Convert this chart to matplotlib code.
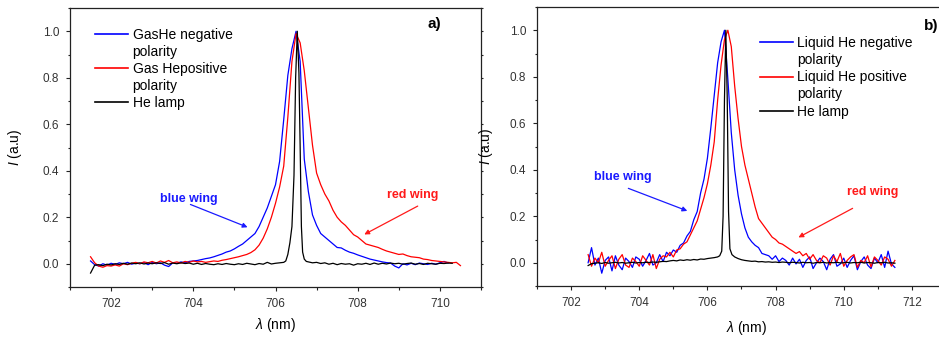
import numpy as np
import matplotlib
matplotlib.use("Agg")
import matplotlib.pyplot as plt
from matplotlib.lines import Line2D
from matplotlib.ticker import MultipleLocator

plt.rcParams['font.family'] = ['Liberation Sans', 'DejaVu Sans']
plt.rcParams['mathtext.fontset'] = 'custom'
plt.rcParams['mathtext.it'] = 'Liberation Sans:italic'
plt.rcParams['mathtext.rm'] = 'Liberation Sans'

# ---- panel a) gas He, sampled every 0.1 nm from 701.5 nm ----
gas_neg = [0.012, -0.004, -0.01, 0.0, -0.006,
           0.002, -0.003, 0.004, 0.0, 0.006, -0.002, 0.003, 0.0, 0.005, -0.004,
           0.006, 0.0, 0.004, -0.006, -0.012, 0.004, 0.002, 0.008, 0.004, 0.01,
           0.012, 0.014, 0.018, 0.022, 0.025, 0.03, 0.036, 0.042, 0.05, 0.055,
           0.064, 0.075, 0.085, 0.1, 0.115, 0.13, 0.16, 0.2, 0.24, 0.29,
           0.34, 0.44, 0.62, 0.81, 0.925, 1.0, 0.87, 0.45, 0.31, 0.21,
           0.165, 0.13, 0.115, 0.1, 0.085, 0.07, 0.068, 0.058, 0.05, 0.045,
           0.038, 0.032, 0.026, 0.02, 0.016, 0.012, 0.008, 0.005, 0.003, -0.01,
           -0.018, 0.0, -0.005, 0.002, -0.004, 0.003, 0.0, -0.003, 0.002, -0.002,
           0.004, 0.01, 0.003]
gas_pos = [0.03, 0.004, -0.01, -0.015, -0.008,
           -0.01, -0.005, -0.01, 0.0, -0.004, 0.002, 0.006, 0.0, 0.008, 0.004,
           0.01, 0.003, 0.012, 0.006, 0.014, 0.004, 0.008, 0.003, 0.01, 0.006,
           0.012, 0.008, 0.01, 0.006, 0.009, 0.012, 0.01, 0.015, 0.018, 0.022,
           0.026, 0.03, 0.035, 0.04, 0.048, 0.06, 0.08, 0.11, 0.15, 0.2,
           0.26, 0.33, 0.42, 0.63, 0.87, 0.99, 0.95, 0.83, 0.67, 0.51,
           0.39, 0.34, 0.3, 0.27, 0.23, 0.2, 0.18, 0.165, 0.145, 0.125,
           0.115, 0.1, 0.085, 0.08, 0.075, 0.07, 0.062, 0.055, 0.05, 0.045,
           0.04, 0.042, 0.035, 0.03, 0.028, 0.026, 0.02, 0.018, 0.014, 0.012,
           0.01, 0.008, 0.006, 0.004, 0.006, -0.008]
# He lamp: baseline before the line (from 701.5), the line itself, baseline after (from 706.8)
lamp_a_left = [-0.04, -0.006, -0.004, -0.008, -0.002,
               -0.005, 0.0, -0.003, 0.002, -0.002, 0.003, 0.0, 0.004, -0.001, 0.003,
               0.0, 0.004, 0.001, 0.005, -0.002, 0.003, 0.0, 0.004, 0.001, 0.003,
               -0.002, 0.002, -0.003, 0.001, -0.002, -0.004, 0.0, -0.003, 0.001, -0.002,
               -0.004, 0.0, -0.003, 0.002, -0.001, -0.004, 0.001, -0.002, 0.006, -0.001,
               0.002, 0.004, 0.006]
lamp_a_peak_wl = [706.25, 706.3, 706.35, 706.4, 706.45, 706.49, 706.53, 706.57, 706.6, 706.63, 706.66, 706.7, 706.75]
lamp_a_peak = [0.012, 0.04, 0.09, 0.16, 0.38, 0.8, 1.0, 0.82, 0.5, 0.16, 0.05, 0.02, 0.01]
lamp_a_right = [0.008, 0.004,
                0.006, 0.001, 0.004, -0.002, 0.002, -0.004, 0.001, -0.002, 0.0, -0.006,
                0.0, -0.002, 0.002, -0.003, 0.003, -0.002, 0.002, -0.001, 0.003, 0.0,
                0.002, -0.002, 0.001, 0.003, -0.002, 0.001, -0.003, 0.002, 0.0, -0.002,
                0.002, 0.001, 0.003, 0.002]

# ---- panel b) liquid He, sampled every 0.1 nm from 702.5 nm ----
liq_neg = [0.0, 0.065, -0.01, 0.02, -0.045,
           0.01, 0.025, -0.035, 0.03, -0.01, -0.03, 0.02, 0.005, -0.02, 0.025,
           0.015, -0.015, 0.01, 0.04, -0.01, 0.0, 0.035, 0.005, 0.045, 0.03,
           0.055, 0.045, 0.075, 0.085, 0.115, 0.135, 0.185, 0.22, 0.3, 0.36,
           0.45, 0.58, 0.72, 0.86, 0.95, 1.0, 0.79, 0.56, 0.4, 0.29,
           0.21, 0.15, 0.11, 0.09, 0.075, 0.065, 0.04, 0.035, 0.03, 0.015,
           0.03, 0.005, 0.02, 0.01, -0.01, 0.02, -0.005, 0.015, -0.02, 0.01,
           0.025, -0.025, 0.0, 0.02, 0.005, -0.03, 0.015, 0.035, -0.015, -0.005,
           0.02, -0.02, 0.01, 0.03, -0.03, 0.005, 0.025, -0.01, -0.025, 0.02,
           0.0, 0.035, -0.02, 0.05, -0.005, -0.02]
liq_pos = [0.035, -0.015, 0.02, 0.0, 0.045,
           -0.015, 0.01, 0.03, -0.025, 0.015, 0.035, -0.01, -0.02, 0.02, 0.005,
           -0.015, 0.03, 0.01, -0.01, 0.035, -0.025, 0.015, 0.03, 0.025, 0.045,
           0.025, 0.055, 0.06, 0.08, 0.09, 0.12, 0.15, 0.18, 0.23, 0.28,
           0.34, 0.42, 0.52, 0.7, 0.85, 0.96, 1.0, 0.93, 0.76, 0.62,
           0.5, 0.42, 0.36, 0.3, 0.24, 0.19, 0.17, 0.15, 0.13, 0.11,
           0.1, 0.085, 0.08, 0.07, 0.06, 0.05, 0.04, 0.048, 0.03, 0.04,
           0.015, 0.035, 0.01, 0.0, 0.03, 0.02, -0.01, 0.03, 0.005, 0.04,
           -0.015, 0.01, 0.025, 0.035, -0.02, 0.01, 0.0, 0.03, -0.018, 0.025,
           0.01, -0.01, 0.025, 0.015, -0.015, 0.01]
lamp_b_left = [-0.012, -0.004, -0.002, 0.0, -0.003,
               0.001, -0.002, 0.0, 0.002, -0.001, 0.001, -0.002, 0.0, 0.002, -0.001,
               0.001, 0.0, 0.002, 0.001, 0.003, 0.002, 0.004, 0.006, 0.005, 0.008,
               0.01, 0.008, 0.012, 0.01, 0.013, 0.011, 0.014, 0.012, 0.016, 0.015,
               0.018, 0.02, 0.022, 0.025]
lamp_b_peak_wl = [706.36, 706.42, 706.46, 706.5, 706.54, 706.58, 706.62, 706.66, 706.72]
lamp_b_peak = [0.03, 0.05, 0.2, 0.7, 1.0, 0.72, 0.22, 0.06, 0.035]
lamp_b_right = [0.025, 0.018,
                0.013, 0.01, 0.008, 0.006, 0.007, 0.004, 0.005, 0.003, 0.004, 0.002,
                0.003, 0.001, 0.003, 0.002, 0.0, 0.002, 0.001, -0.001, 0.002, 0.0,
                0.001, -0.002, 0.001, 0.0, 0.002, -0.001, 0.001, 0.0, 0.002, -0.001,
                0.0, 0.002, -0.001, 0.001, 0.0, 0.002, -0.001, 0.001, 0.0, -0.002,
                0.001, 0.0, 0.002, -0.001, 0.0, -0.002]


def grid(start, vals):
    # spectrometer sampling, 0.1 nm step
    return np.round(start + 0.1 * np.arange(len(vals)), 2)


def lamp(start_l, left, pk_wl, pk, start_r, right):
    wl = np.concatenate([grid(start_l, left), pk_wl, grid(start_r, right)])
    return wl, np.concatenate([left, pk, right])


fig = plt.figure(figsize=(9.39, 3.38), dpi=100)
axa = fig.add_axes([70 / 939, 51 / 338, 411 / 939, 279 / 338])
axb = fig.add_axes([537 / 939, 52 / 338, 409 / 939, 279 / 338])

lw = 0.9
axa.plot(grid(701.5, gas_neg), gas_neg, color='#0000ff', lw=lw)
axa.plot(grid(701.5, gas_pos), gas_pos, color='#ff0000', lw=lw)
wl, ii = lamp(701.5, lamp_a_left, lamp_a_peak_wl, lamp_a_peak, 706.8, lamp_a_right)
axa.plot(wl, ii, color='black', lw=lw)

axb.plot(grid(702.5, liq_neg), liq_neg, color='#0000ff', lw=lw)
axb.plot(grid(702.5, liq_pos), liq_pos, color='#ff0000', lw=lw)
wl, ii = lamp(702.5, lamp_b_left, lamp_b_peak_wl, lamp_b_peak, 706.8, lamp_b_right)
axb.plot(wl, ii, color='black', lw=lw)

axa.set_xlim(701, 711)
axb.set_xlim(701, 713)

labels_a = ['GasHe negative', 'polarity', 'Gas Hepositive', 'polarity', 'He lamp']
labels_b = ['Liquid He negative', 'polarity', 'Liquid He positive', 'polarity', 'He lamp']
handles = [Line2D([], [], color='#0000ff', lw=1.2), Line2D([], [], color='none'),
           Line2D([], [], color='#ff0000', lw=1.2), Line2D([], [], color='none'),
           Line2D([], [], color='black', lw=1.2)]

for ax, labels, lx, ly in [(axa, labels_a, 0.061, 0.93), (axb, labels_b, 0.545, 0.895)]:
    ax.set_ylim(-0.1, 1.1)
    ax.xaxis.set_major_locator(MultipleLocator(2))
    ax.xaxis.set_minor_locator(MultipleLocator(1))
    ax.yaxis.set_major_locator(MultipleLocator(0.2))
    ax.yaxis.set_minor_locator(MultipleLocator(0.1))
    ax.yaxis.set_major_formatter(matplotlib.ticker.FormatStrFormatter('%.1f'))
    ax.tick_params(which='both', direction='out', top=False, right=False,
                   labelsize=8.5, labelcolor='#333333', color='#222222', width=0.8)
    ax.tick_params(which='major', length=3.2, pad=4.5)
    ax.tick_params(which='minor', length=1.8)
    for s in ax.spines.values():
        s.set_linewidth(0.9)
        s.set_color('#222222')
    ax.set_xlabel(r'$\lambda$ (nm)', fontsize=10)
    ax.set_ylabel(r'$I$ (a.u)', fontsize=10)
    ax.legend(handles, labels, loc='upper left', bbox_to_anchor=(lx, ly),
              frameon=False, fontsize=10, handlelength=2.4, handletextpad=0.3,
              labelspacing=0.22, borderpad=0, borderaxespad=0)

axa.xaxis.set_label_coords(0.5, -0.104)
axb.xaxis.set_label_coords(0.511, -0.12)
axa.yaxis.set_label_coords(-0.113, 0.5)
axb.yaxis.set_label_coords(-0.102, 0.5)

# little outward ticks on the right frame of panel a
sec = axa.secondary_yaxis('right')
sec.yaxis.set_major_locator(MultipleLocator(0.1))
sec.tick_params(length=1.5, width=0.8, labelright=False, color='#222222')
sec.spines['right'].set_visible(False)

blue_t = '#1a1aff'
red_t = '#ff1a1a'
arrow = dict(arrowstyle='-|>', lw=0.9, mutation_scale=7, shrinkA=0, shrinkB=0)

axa.text(703.9, 0.28, 'blue wing', color=blue_t, fontsize=9, fontweight='bold', ha='center', va='center')
axa.annotate('', xy=(705.32, 0.157), xytext=(703.93, 0.255), arrowprops=dict(arrow, color=blue_t))
axa.text(709.34, 0.294, 'red wing', color=red_t, fontsize=9, fontweight='bold', ha='center', va='center')
axa.annotate('', xy=(708.16, 0.126), xytext=(709.46, 0.248), arrowprops=dict(arrow, color=red_t))
axa.text(710.04, 1.03, 'a)', fontsize=11, fontweight='bold', ha='right', va='center')

axb.text(703.53, 0.37, 'blue wing', color=blue_t, fontsize=9, fontweight='bold', ha='center', va='center')
axb.annotate('', xy=(705.41, 0.223), xytext=(703.68, 0.32), arrowprops=dict(arrow, color=blue_t))
axb.text(710.86, 0.305, 'red wing', color=red_t, fontsize=9, fontweight='bold', ha='center', va='center')
axb.annotate('', xy=(708.67, 0.109), xytext=(710.26, 0.234), arrowprops=dict(arrow, color=red_t))
axb.text(712.35, 1.02, 'b)', fontsize=11, fontweight='bold', ha='left', va='center')

fig.savefig('out.png', dpi=100)
